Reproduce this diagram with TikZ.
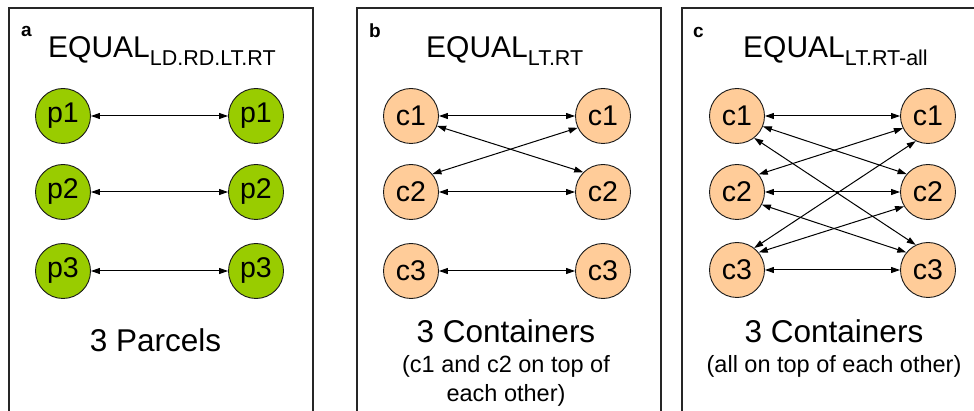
\documentclass[tikz,border=0pt]{standalone}
\usepackage{fontspec}
\setmainfont{Liberation Sans}
\usetikzlibrary{arrows.meta}
\definecolor{parcelgreen}{HTML}{99CC00}
\definecolor{boxpeach}{HTML}{FFCC99}
\begin{document}
\begin{tikzpicture}[x=1pt,y=-1pt,
  panel/.style={draw=black!85, line width=1.4pt},
  parcel/.style={circle, draw=black!90, line width=0.9pt, fill=parcelgreen,
    minimum size=55pt, inner sep=0pt, font=\fontsize{28.5}{30}\selectfont},
  container/.style={parcel, fill=boxpeach},
  link/.style={line width=1pt,
    {Triangle[length=9pt,width=6pt]}-{Triangle[length=9pt,width=6pt]}},
  tag/.style={anchor=base west, inner sep=0pt, font=\fontsize{19}{22}\selectfont\bfseries},
  heading/.style={anchor=base west, inner sep=0pt, font=\fontsize{30}{36}\selectfont},
  caption/.style={anchor=base, inner sep=0pt, font=\fontsize{31.5}{36}\selectfont},
  note/.style={anchor=base, inner sep=0pt, font=\fontsize{23.5}{28}\selectfont}
]
\clip (0,0) rectangle (974,411);
\fill[white] (0,0) rectangle (974,411);

% frames of the three panels
\draw[panel] (9,8) rectangle (313,430);
\draw[panel] (357,8) rectangle (661,430);
\draw[panel] (682,8) rectangle (986,430);

% panel letters
\node[tag] (taga) at (21,37) {a};
\node[tag] (tagb) at (369,38) {b};
\node[tag] (tagc) at (693,38) {c};

% headings
\newcommand{\subtxt}[1]{\raisebox{-8pt}{\fontsize{21.5}{25}\selectfont #1}}
\node[heading] (ha) at (48,58) {EQUAL\subtxt{LD.RD.LT.RT}};
\node[heading] (hb) at (426,58) {EQUAL\subtxt{LT.RT}};
\node[heading] (hc) at (743,58) {EQUAL\subtxt{LT.RT-all}};

% panel a: parcels
\foreach \i/\y in {1/116,2/192,3/271}{
  \node[parcel] (aL\i) at (63,\y) {p\i};
  \node[parcel] (aR\i) at (256,\y) {p\i};
  \draw[link] (aL\i) -- (aR\i);
}

% panel b: containers
\foreach \i/\y in {1/116,2/192,3/271}{
  \node[container] (bL\i) at (411,\y) {c\i};
  \node[container] (bR\i) at (603,\y) {c\i};
  \draw[link] (bL\i) -- (bR\i);
}
\draw[link] (bL1.-21) -- (bR2.135);
\draw[link] (bL2.40) -- (bR1.205);

% panel c: containers
\foreach \i/\y in {1/116,2/192,3/270}{
  \node[container] (cL\i) at (737,\y) {c\i};
  \node[container] (cR\i) at (928,\y) {c\i};
  \draw[link] (cL\i) -- (cR\i);
}
\draw[link] (cL1.-22) -- (cR2.140);
\draw[link] (cL2.39) -- (cR1.206);
\draw[link] (cL1.-52) -- (cR3.116);
\draw[link] (cL3.52) -- (cR1.244);
\draw[link] (cL2.-27) -- (cR3.141);
\draw[link] (cL3.39) -- (cR2.211);

% captions
\node[caption] (capa) at (155.5,352) {3 Parcels};
\node[caption] (capb) at (506,342) {3 Containers};
\node[note] (nb1) at (506,373) {(c1 and c2 on top of};
\node[note] (nb2) at (506,401) {each other)};
\node[caption] (capc) at (834,342) {3 Containers};
\node[note] (nc1) at (834,373) {(all on top of each other)};
\end{tikzpicture}
\end{document}
